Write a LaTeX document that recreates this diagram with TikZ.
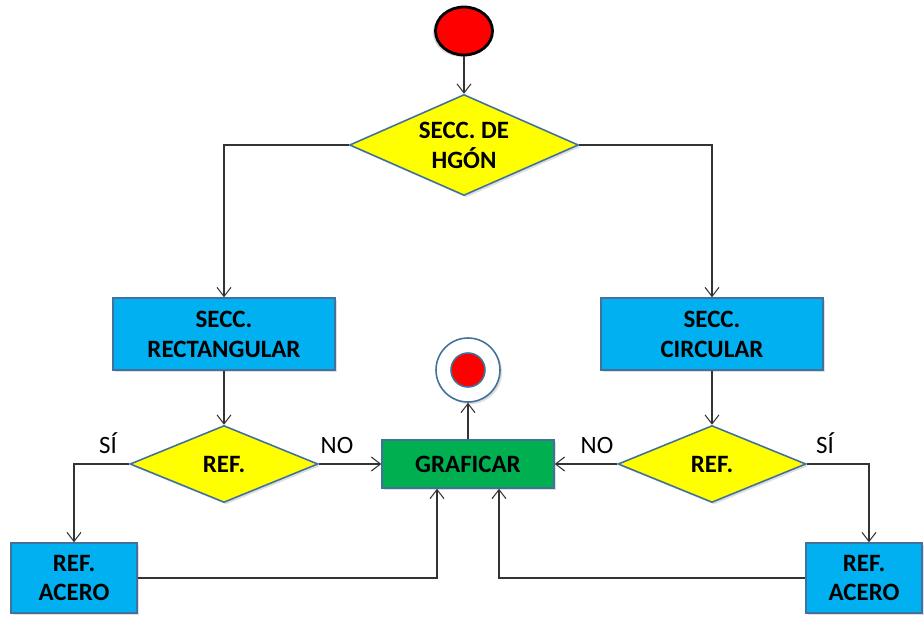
\documentclass[tikz,border=0pt]{standalone}
\usepackage{fontspec}
\setmainfont{Carlito}
\usepackage{tikz}
\usetikzlibrary{positioning,arrows.meta,calc,shapes.geometric,shadows}

\definecolor{boxblue}{HTML}{00B0F0}
\definecolor{boxgreen}{HTML}{00B050}
\definecolor{boxyellow}{HTML}{FFFF00}
\definecolor{boxred}{HTML}{FF0000}
\definecolor{edgeblue}{HTML}{41719C}
\definecolor{linegray}{HTML}{333333}

\begin{document}
\begin{tikzpicture}[
  x=0.02cm, y=-0.02cm,
  box/.style={
    draw=edgeblue, line width=0.9pt, rectangle,
    inner sep=0pt, align=center,
    font=\bfseries\fontsize{14.2}{17}\selectfont,
    drop shadow={opacity=0.25, shadow xshift=1.2pt, shadow yshift=-1.2pt}
  },
  process/.style={box, fill=boxblue},
  decision/.style={box, diamond, fill=boxyellow},
  lbl/.style={font=\fontsize{14.2}{17}\selectfont, anchor=base, inner sep=0pt},
  flow/.style={draw=linegray, line width=0.6pt,
    -{Straight Barb[length=1.8mm,width=2.8mm]}},
  link/.style={draw=linegray, line width=0.6pt}
]

\useasboundingbox (0,0) rectangle (924,616);

\node (start) [ellipse, draw=black, line width=1.6pt, fill=boxred,
  minimum width=1.14cm, minimum height=0.96cm,
  drop shadow={opacity=0.3, shadow xshift=-1.5pt, shadow yshift=-1pt}] at (464,31) {};

\node (hgon) [decision, aspect=2.27, minimum width=4.58cm, minimum height=2.02cm]
  at (464,145) {SECC. DE\\HGÓN};

\node (rect) [process, minimum width=4.44cm, minimum height=1.44cm]
  at (224,334) {SECC.\\RECTANGULAR};

\node (circ) [process, minimum width=4.44cm, minimum height=1.44cm]
  at (712,334) {SECC.\\CIRCULAR};

\node (refl) [decision, aspect=2.44, minimum width=3.76cm, minimum height=1.54cm]
  at (224,464) {REF.};

\node (refr) [decision, aspect=2.44, minimum width=3.76cm, minimum height=1.54cm]
  at (712,464) {REF.};

\node (graf) [box, fill=boxgreen, minimum width=3.44cm, minimum height=0.96cm]
  at (468,464) {GRAFICAR};

\node (acerol) [process, minimum width=2.52cm, minimum height=1.40cm]
  at (74,578) {REF.\\ACERO};

\node (aceror) [process, minimum width=2.32cm, minimum height=1.40cm]
  at (864,578) {REF.\\ACERO};

\node (endouter) [circle, draw=edgeblue, line width=0.9pt, fill=white,
  minimum size=1.28cm,
  drop shadow={opacity=0.25, shadow xshift=1.2pt, shadow yshift=-1.2pt}] at (468,370) {};
\node (endinner) [circle, draw=edgeblue, line width=0.9pt, fill=boxred,
  minimum size=0.68cm] at (468,370) {};

% labels
\node (sil) [lbl] at (108,453) {SÍ};
\node (nol) [lbl] at (337,453) {NO};
\node (nor) [lbl] at (597,453) {NO};
\node (sir) [lbl] at (825,453) {SÍ};

% connectors
\draw[flow] (start) -- (hgon);
\draw[flow] (hgon.west) -| (rect.north);
\draw[flow] (hgon.east) -| (circ.north);
\draw[flow] (rect) -- (refl);
\draw[flow] (circ) -- (refr);
\draw[flow] (refl.west) -| (acerol.north);
\draw[flow] (refr.east) -| ([xshift=0.1cm]aceror.north);
\draw[flow] (refl.east) -- (graf.west);
\draw[flow] (refr.west) -- (graf.east);
\draw[flow] (acerol.east) -| ([xshift=-0.62cm]graf.south);
\draw[flow] (aceror.west) -| ([xshift=0.62cm]graf.south);
\draw[flow] (graf) -- (endouter);

\end{tikzpicture}
\end{document}
